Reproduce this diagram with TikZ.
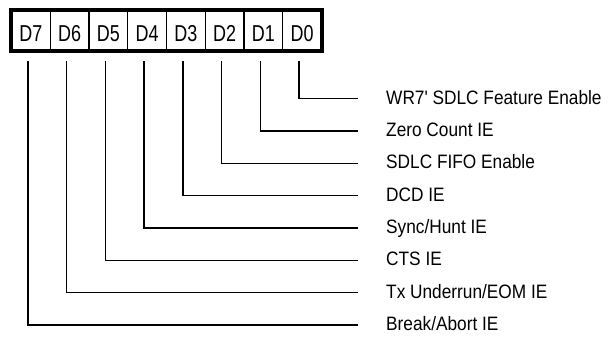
\documentclass[tikz,border=0pt]{standalone}
\usepackage{fontspec}
\setmainfont{Liberation Sans}
\newfontfamily\labelfont[FakeStretch=0.89]{Liberation Sans}
\newfontfamily\cellfont[FakeStretch=0.78]{Liberation Sans}
\begin{document}
\begin{tikzpicture}[x=1pt,y=1pt,
  bitcell/.style={draw, line width=1.1pt, minimum width=38.75pt, minimum height=40pt,
    inner sep=0pt, text height=22pt, text depth=0pt,
    font=\cellfont\fontsize{23}{25}\selectfont},
  bitlabel/.style={anchor=west, inner sep=0pt, text height=11pt, text depth=0pt,
    font=\labelfont\fontsize{19.4}{21}\selectfont},
  leader/.style={line width=1.4pt, shorten <=10pt, shorten >=28pt}]
\useasboundingbox (0,0) rectangle (613,-337);
% register cells
\foreach \b [count=\i from 0] in {7,6,5,4,3,2,1,0}{
  \node[bitcell] (c\b) at (30.875+38.75*\i,-30.5) {D\b};
}
\draw[line width=3.2pt] (c7.north west) rectangle (c0.south east);
% labels
\node[bitlabel] (l0) at (386,-98.7)  {WR7' SDLC Feature Enable};
\node[bitlabel] (l1) at (386,-131.0) {Zero Count IE};
\node[bitlabel] (l2) at (386,-163.3) {SDLC FIFO Enable};
\node[bitlabel] (l3) at (386,-195.6) {DCD IE};
\node[bitlabel] (l4) at (386,-227.9) {Sync/Hunt IE};
\node[bitlabel] (l5) at (386,-260.2) {CTS IE};
\node[bitlabel] (l6) at (386,-292.5) {Tx Underrun/EOM IE};
\node[bitlabel] (l7) at (386,-324.8) {Break/Abort IE};
% leaders
\foreach \b in {0,...,7}{
  \draw[leader] ([xshift=-3pt]c\b.south) |- (l\b.west);
}
\end{tikzpicture}
\end{document}
